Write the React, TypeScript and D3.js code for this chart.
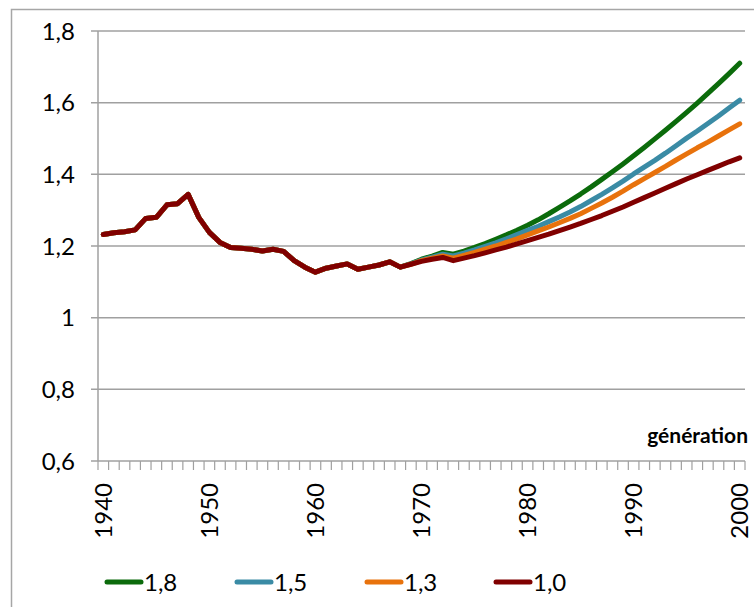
import { useEffect, useRef } from "react";
import * as d3 from "d3";

// historical values, shared by every scenario (1940-1968)
const histYears = d3.range(1940, 1969);
const histValues = [
  1.232, 1.237, 1.24, 1.245, 1.277, 1.28, 1.315, 1.318, 1.344, 1.28, 1.238,
  1.21, 1.196, 1.194, 1.191, 1.186, 1.191, 1.185, 1.159, 1.141, 1.127, 1.138,
  1.144, 1.15, 1.135, 1.141, 1.147, 1.156, 1.141,
];

// projections 1969-2000
const projYears = d3.range(1969, 2001);
const proj18 = [
  1.151, 1.163, 1.172, 1.182, 1.177, 1.186, 1.196, 1.207, 1.219, 1.231, 1.244,
  1.258, 1.273, 1.29, 1.308, 1.326, 1.345, 1.365, 1.386, 1.407, 1.429, 1.452,
  1.475, 1.499, 1.523, 1.548, 1.573, 1.599, 1.626, 1.653, 1.681, 1.71,
];
const proj15 = [
  1.15, 1.161, 1.169, 1.177, 1.172, 1.18, 1.189, 1.199, 1.209, 1.22, 1.232,
  1.244, 1.255, 1.268, 1.281, 1.295, 1.31, 1.327, 1.344, 1.362, 1.381, 1.401,
  1.42, 1.439, 1.459, 1.48, 1.501, 1.521, 1.542, 1.563, 1.585, 1.607,
];
const proj13 = [
  1.149, 1.159, 1.166, 1.172, 1.166, 1.174, 1.182, 1.191, 1.2, 1.21, 1.22,
  1.231, 1.242, 1.253, 1.265, 1.277, 1.29, 1.305, 1.32, 1.336, 1.353, 1.371,
  1.388, 1.405, 1.422, 1.44, 1.457, 1.474, 1.49, 1.507, 1.524, 1.541,
];
const proj10 = [
  1.149, 1.157, 1.163, 1.168, 1.159, 1.166, 1.173, 1.181, 1.189, 1.197, 1.206,
  1.215, 1.224, 1.233, 1.243, 1.253, 1.263, 1.274, 1.285, 1.297, 1.309, 1.322,
  1.335, 1.348, 1.361, 1.374, 1.387, 1.399, 1.411, 1.423, 1.435, 1.446,
];

const seriesNames = ["1,8", "1,5", "1,3", "1,0"];
const seriesColors = ["#0b6b0b", "#3a8ba5", "#e8720c", "#800000"];
const seriesValues = [proj18, proj15, proj13, proj10];

const yTicks = [0.6, 0.8, 1, 1.2, 1.4, 1.6, 1.8];
const xLabels = [1940, 1950, 1960, 1970, 1980, 1990, 2000];

interface IPoint {
  year: number;
  value: number;
}

function App() {
  const ref = useRef<SVGSVGElement>(null);

  useEffect(() => {
    const svg = d3.select(ref.current);
    svg.selectAll("*").remove();

    const left = 98;
    const right = 745;
    const top = 31;
    const bottom = 461;
    const font = "Lato, 'Open Sans', sans-serif";

    const xScale = d3.scaleLinear().domain([1939.5, 2000.5]).range([left, right]);
    const yScale = d3.scaleLinear().domain([0.6, 1.8]).range([bottom, top]);

    svg
      .append("rect")
      .attr("width", 754)
      .attr("height", 607)
      .attr("fill", "#fff");

    // outer chart border
    svg
      .append("rect")
      .attr("x", 11.5)
      .attr("y", 9.5)
      .attr("width", 800)
      .attr("height", 700)
      .attr("fill", "none")
      .attr("stroke", "#a6a6a6")
      .attr("stroke-width", 1.5);

    // gridlines + y ticks
    svg
      .append("g")
      .selectAll("line")
      .data(yTicks.filter((t) => t > 0.6))
      .join("line")
      .attr("x1", left - 7)
      .attr("x2", right)
      .attr("y1", (d) => yScale(d))
      .attr("y2", (d) => yScale(d))
      .attr("stroke", "#a0a0a0")
      .attr("stroke-width", 1.5);

    svg
      .append("g")
      .selectAll("text")
      .data(yTicks)
      .join("text")
      .attr("x", 75)
      .attr("y", (d) => yScale(d))
      .attr("dy", "0.36em")
      .attr("text-anchor", "end")
      .attr("font-family", font)
      .attr("font-size", 24)
      .attr("fill", "#000")
      .text((d) => (d === 1 ? "1" : d3.format(".1f")(d).replace(".", ",")));

    // y axis line
    svg
      .append("line")
      .attr("x1", left)
      .attr("x2", left)
      .attr("y1", top)
      .attr("y2", bottom)
      .attr("stroke", "#a0a0a0")
      .attr("stroke-width", 1.5);

    // x axis line + category ticks
    svg
      .append("line")
      .attr("x1", left - 7)
      .attr("x2", right)
      .attr("y1", bottom)
      .attr("y2", bottom)
      .attr("stroke", "#a0a0a0")
      .attr("stroke-width", 1.5);

    svg
      .append("g")
      .selectAll("line")
      .data(d3.range(1939.5, 2001.5, 1))
      .join("line")
      .attr("x1", (d) => xScale(d))
      .attr("x2", (d) => xScale(d))
      .attr("y1", bottom)
      .attr("y2", bottom + 9)
      .attr("stroke", "#a0a0a0")
      .attr("stroke-width", 1.2);

    svg
      .append("g")
      .selectAll("text")
      .data(xLabels)
      .join("text")
      .attr(
        "transform",
        (d) => `translate(${xScale(d)}, 483) rotate(-90)`
      )
      .attr("dy", "0.36em")
      .attr("text-anchor", "end")
      .attr("font-family", font)
      .attr("font-size", 24)
      .attr("fill", "#000")
      .text((d) => String(d));

    svg
      .append("text")
      .attr("x", 748)
      .attr("y", 443)
      .attr("text-anchor", "end")
      .attr("font-family", font)
      .attr("font-weight", "bold")
      .attr("font-size", 21)
      .attr("fill", "#000")
      .text("génération");

    const line = d3
      .line<IPoint>()
      .x((d) => xScale(d.year))
      .y((d) => yScale(d.value));

    const hist: IPoint[] = histYears.map((y, i) => ({
      year: y,
      value: histValues[i],
    }));

    seriesValues.forEach((vals, s) => {
      const pts: IPoint[] = hist.concat(
        projYears.map((y, i) => ({ year: y, value: vals[i] }))
      );
      svg
        .append("path")
        .datum(pts)
        .attr("fill", "none")
        .attr("stroke", seriesColors[s])
        .attr("stroke-width", 5)
        .attr("stroke-linejoin", "round")
        .attr("stroke-linecap", "round")
        .attr("d", line);
    });

    // legend
    const legendX = [107, 237, 367, 496];
    const legend = svg
      .append("g")
      .selectAll("g")
      .data(seriesNames)
      .join("g")
      .attr("transform", (d, i) => `translate(${legendX[i]}, 582)`);
    legend
      .append("line")
      .attr("x1", 0)
      .attr("x2", 34)
      .attr("stroke", (d, i) => seriesColors[i])
      .attr("stroke-width", 5)
      .attr("stroke-linecap", "round");
    legend
      .append("text")
      .attr("x", 37)
      .attr("dy", "0.36em")
      .attr("font-family", font)
      .attr("font-size", 24)
      .attr("fill", "#000")
      .text((d) => d);
  }, []);

  return (
    <svg
      ref={ref}
      width={754}
      height={607}
      style={{ position: "absolute", left: 0, top: 0 }}
    ></svg>
  );
}

export default App;
